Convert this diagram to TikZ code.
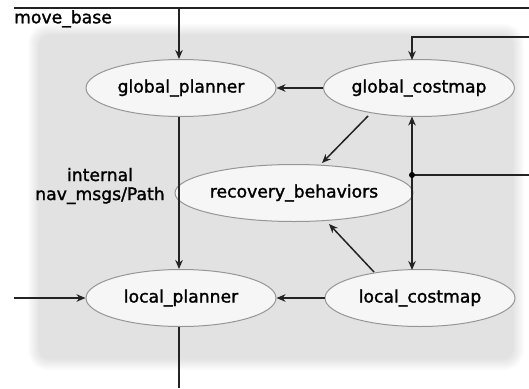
\documentclass[tikz,border=0pt]{standalone}
\usepackage{fontspec}
\setmainfont{DejaVu Sans}
\newfontfamily\lblfont{DejaVu Sans}[FakeBold=1.5]
\usetikzlibrary{arrows.meta,calc,shapes.geometric}
\definecolor{nodefill}{RGB}{246,246,246}
\definecolor{nodeline}{RGB}{150,150,150}
\definecolor{wire}{RGB}{35,35,35}
\begin{document}
\begin{tikzpicture}[x=1pt,y=-1pt,
  elli/.style={ellipse,draw=nodeline,line width=1pt,fill=nodefill,minimum width=190pt,minimum height=57pt,inner sep=0pt,font=\lblfont\fontsize{17.2}{19}\selectfont},
  lbl/.style={font=\lblfont\fontsize{17.2}{19}\selectfont,inner sep=0pt},
  wireline/.style={draw=wire,line width=1.5pt},
  arr/.style={wireline,-{Stealth[length=9pt,width=7.5pt]}},
  darr/.style={wireline,{Stealth[length=9pt,width=7.5pt]}-{Stealth[length=9pt,width=7.5pt]}}]
\useasboundingbox (0,0) rectangle (529,388);
\fill[white] (0,0) rectangle (529,388);
% gray box with soft edge
\foreach \i in {0,...,9}{
  \pgfmathsetmacro{\g}{int(252-2.8*\i)}
  \definecolor{boxshade}{RGB}{\g,\g,\g}
  \pgfmathsetmacro{\rc}{20-\i}
  \fill[boxshade,rounded corners=\rc pt] (28+1.2*\i,24+1.2*\i) rectangle (524-1.2*\i,370-1.2*\i);
}
% nodes
\node[elli] (gp) at (181,88) {global\_planner};
\node[elli] (gc) at (419,88) {global\_costmap};
\node[elli] (rb) at (294,193) {recovery\_behaviors};
\node[elli] (lp) at (181,298) {local\_planner};
\node[elli] (lc) at (420,298) {local\_costmap};
\node[lbl,anchor=north west] (mb) at (14,10) {move\_base};
\node[lbl,align=center] (path) at (100,186) {internal\\nav\_msgs/Path};
% free ends
\coordinate (topL) at (14,8);
\coordinate (topR) at (529,8);
\coordinate (topdrop) at (179,8);
\coordinate (rin) at (529,37);
\coordinate (rcorner) at (412,37);
\coordinate (dot) at (412,175);
\coordinate (rdot) at (529,175);
\coordinate (lin) at (14,298);
\coordinate (bout) at (179,388);
% connectors
\draw[wireline] (topL) -- (topR);
\draw[arr] (topdrop) -- (gp.north -| topdrop);
\draw[arr] (rin) -- (rcorner) -- (412,60);
\draw[arr] (gc) -- (gp);
\draw[arr] (lc) -- (lp);
\draw[arr] (gp.south -| topdrop) -- (lp.north -| topdrop);
\draw[wireline] (lp.south -| bout) -- (bout);
\draw[arr] (lin) -- (lp);
\draw[darr] (412,116.5) -- (412,270);
\draw[wireline] (dot) -- (rdot);
\fill[black] (dot) circle (3pt);
\draw[arr] (368,116) -- (322,163);
\draw[arr] (374,272) -- (329,224);
\end{tikzpicture}
\end{document}
